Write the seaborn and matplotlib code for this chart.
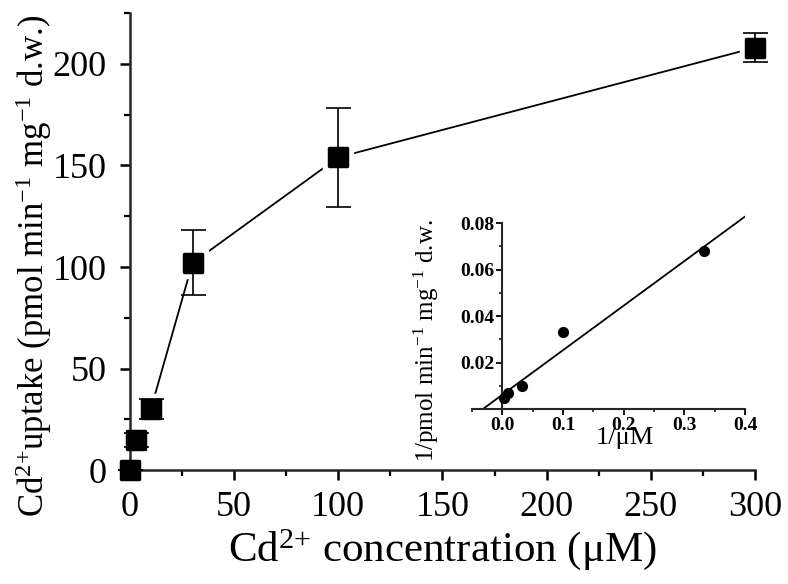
import numpy as np
import pandas as pd
import matplotlib
matplotlib.use("Agg")
import matplotlib.pyplot as plt
from matplotlib.markers import MarkerStyle
from matplotlib.ticker import MultipleLocator
import seaborn as sns

sns.set_theme(style="ticks")
plt.rcParams['font.family'] = ['Liberation Serif', 'DejaVu Serif']
plt.rcParams['mathtext.default'] = 'regular'

# main plot: Cd2+ uptake vs concentration
conc = [0, 3, 10, 30, 100, 300]
uptake = [0, 15, 30, 102, 154, 208]
uptake_err = [0, 3.5, 5, 16, 24.5, 7]

# inset: double reciprocal (Lineweaver-Burk)
inv_conc = [0.0033, 0.010, 0.033, 0.100, 0.333]
inv_uptake = [0.0048, 0.0068, 0.010, 0.033, 0.068]

main_df = pd.DataFrame({'conc': conc, 'uptake': uptake, 'err': uptake_err})
inset_df = pd.DataFrame({'x': inv_conc, 'y': inv_uptake})

fig = plt.figure(figsize=(7.88, 5.84), dpi=100)
ax = fig.add_axes([0.165, 0.195, 0.793, 0.7825])

# connecting line
sns.lineplot(data=main_df, x='conc', y='uptake', ax=ax, color='black',
             linewidth=1.3, zorder=1, clip_on=False)
# white halo so the line stops short of the markers
ax.plot(main_df['conc'], main_df['uptake'], linestyle='none', marker='s',
        markersize=21, color='white', zorder=2, clip_on=False)
ax.errorbar(main_df['conc'], main_df['uptake'], yerr=main_df['err'], fmt='none',
            ecolor='black', elinewidth=1.2, capsize=9, capthick=1.2, zorder=3,
            clip_on=False)
sq = MarkerStyle('s', joinstyle='round')
ax.plot(main_df['conc'], main_df['uptake'], linestyle='none', marker=sq,
        markersize=13, markeredgewidth=2.5, color='black', zorder=4, clip_on=False)

ax.set_xlim(0, 300)
ax.set_ylim(0, 225)
ax.spines['top'].set_visible(False)
ax.spines['right'].set_visible(False)
for s in ['left', 'bottom']:
    ax.spines[s].set_linewidth(1.8)
ax.xaxis.set_major_locator(MultipleLocator(50))
ax.xaxis.set_minor_locator(MultipleLocator(25))
ax.yaxis.set_major_locator(MultipleLocator(50))
ax.yaxis.set_minor_locator(MultipleLocator(25))
ax.tick_params(which='major', direction='out', length=7, width=1.8, labelsize=26,
               color='black', labelcolor='black')
ax.tick_params(axis='y', which='major', pad=10)
ax.tick_params(axis='x', which='major', pad=8)
ax.tick_params(which='minor', direction='out', length=4, width=1.6, color='black')
ax.set_xlabel('Cd$^{2{+}}$ concentration (\u03bcM)', fontsize=31, color='black')
ax.set_ylabel('Cd$^{2{+}}$uptake (pmol min$^{-1}$ mg$^{-1}$ d.w.)', fontsize=25,
              color='black')
ax.xaxis.set_label_coords(0.5, -0.125)
ax.yaxis.set_label_coords(-0.122, 0.446)

# inset
axi = fig.add_axes([0.599, 0.2997, 0.3464, 0.332])
axi.set_xlim(-0.05, 0.4)
axi.set_ylim(0, 0.0835)
sns.regplot(data=inset_df, x='x', y='y', ax=axi, ci=None, truncate=False,
            color='black',
            scatter_kws={'s': 65, 'zorder': 3, 'linewidths': 0, 'alpha': 1},
            line_kws={'linewidth': 1.3})
axi.set_xlim(-0.05, 0.4)
axi.set_ylim(0, 0.0835)
axi.patch.set_alpha(0)
axi.spines['top'].set_visible(False)
axi.spines['right'].set_visible(False)
axi.spines['left'].set_position(('data', 0))
axi.spines['left'].set_bounds(0, 0.08)
for s in ['left', 'bottom']:
    axi.spines[s].set_linewidth(1.5)
axi.xaxis.set_minor_locator(MultipleLocator(0.05))
axi.yaxis.set_minor_locator(MultipleLocator(0.01))
axi.set_yticks([0.02, 0.04, 0.06, 0.08])
axi.set_xticks([0.0, 0.1, 0.2, 0.3, 0.4])
axi.set_xticklabels(['0.0', '0.1', '0.2', '0.3', '0.4'])
axi.tick_params(which='major', direction='out', length=4, width=1.3, labelsize=14,
                color='black', labelcolor='black', pad=1.5)
axi.tick_params(which='minor', direction='out', length=2.5, width=1.1, color='black')
for lab in axi.get_xticklabels() + axi.get_yticklabels():
    lab.set_fontweight('bold')
axi.set_xlabel('1/\u03bcM', fontsize=19, color='black')
axi.set_ylabel('1/pmol min$^{-1}$ mg$^{-1}$ d.w.', fontsize=18, color='black')
axi.xaxis.set_label_coords(0.56, -0.095)
axi.yaxis.set_label_coords(-0.115, 0.35)

fig.savefig('out.png', dpi=100)
